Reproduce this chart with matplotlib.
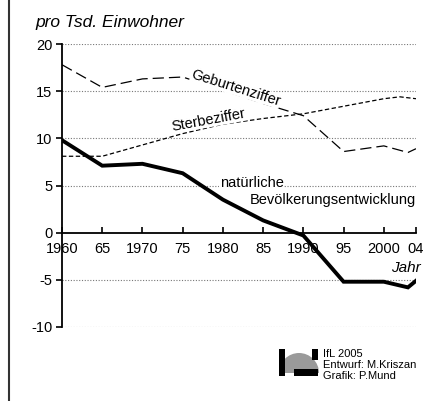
import matplotlib
matplotlib.use("Agg")
import matplotlib.pyplot as plt
from matplotlib.patches import Rectangle, Wedge
import matplotlib.lines as mlines

plt.rcParams['font.family'] = ['Liberation Sans', 'DejaVu Sans']

# Data
years_geb = [1960, 1965, 1970, 1975, 1980, 1985, 1990, 1995, 2000, 2003, 2004]
geburten = [17.8, 15.4, 16.3, 16.5, 15.1, 13.7, 12.4, 8.6, 9.2, 8.5, 8.9]

years_ster = [1960, 1965, 1970, 1975, 1980, 1985, 1990, 1995, 2000, 2002, 2004]
sterbe = [8.1, 8.1, 9.3, 10.5, 11.5, 12.1, 12.6, 13.4, 14.2, 14.4, 14.2]

years_nat = [1960, 1965, 1970, 1975, 1980, 1985, 1990, 1995, 2000, 2003, 2004]
natuerlich = [9.8, 7.1, 7.3, 6.3, 3.5, 1.3, -0.3, -5.2, -5.2, -5.8, -5.1]

xticks = [1960, 1965, 1970, 1975, 1980, 1985, 1990, 1995, 2000, 2004]
xticklabels = ["1960", "65", "1970", "75", "1980", "85", "1990", "95", "2000", "04"]
yticks = [-10, -5, 0, 5, 10, 15, 20]
yticklabels = ["-10", "-5", "0", "5", "10", "15", "20"]

W, H = 433, 401
fig = plt.figure(figsize=(W / 100, H / 100), dpi=100)
ax = fig.add_axes([62 / W, 1 - 327 / H, (416 - 62) / W, (327 - 44) / H])
ax.set_xlim(1960, 2004)
ax.set_ylim(-10, 20)

# grid lines
for yv in [20, 15, 10, 5, -5, -10]:
    ax.plot([1960, 2004], [yv, yv], color='#777777', lw=0.8, ls=(0, (1, 1.5)), zorder=1)

# lines
ax.plot(years_geb, geburten, color='black', lw=0.9, ls=(0, (9, 4)), zorder=3)
ax.plot(years_ster, sterbe, color='black', lw=0.9, ls=(0, (3.5, 2)), zorder=3)
ax.plot(years_nat, natuerlich, color='black', lw=2.8, solid_joinstyle='miter', zorder=4)

# spines
for s in ['top', 'right']:
    ax.spines[s].set_visible(False)
ax.spines['bottom'].set_position(('data', 0))
ax.spines['bottom'].set_linewidth(1.3)
ax.spines['left'].set_linewidth(1.3)
ax.patch.set_visible(False)

ax.set_xticks(xticks)
ax.set_xticklabels(xticklabels)
ax.set_yticks(yticks)
ax.set_yticklabels(yticklabels)
ax.tick_params(axis='x', direction='in', length=4, width=1.2, pad=7, labelsize=10.5)
ax.tick_params(axis='y', direction='out', length=4, width=1.2, pad=3, labelsize=10.5)

# labels
ax.text(1981.6, 15.35, "Geburtenziffer", rotation=-17.5, rotation_mode='anchor',
        ha='center', va='center', fontsize=10.5, zorder=5,
        bbox=dict(facecolor='white', edgecolor='none', pad=0.3))
ax.text(1978.2, 11.95, "Sterbeziffer", rotation=10.5, rotation_mode='anchor',
        ha='center', va='center', fontsize=10.5, zorder=5,
        bbox=dict(facecolor='white', edgecolor='none', pad=0.3))
ax.text(1979.6, 5.25, "natürliche", ha='left', va='center', fontsize=10.5, zorder=5,
        bbox=dict(facecolor='white', edgecolor='none', pad=0.5))
ax.text(2004, 3.45, "Bevölkerungsentwicklung", ha='right', va='center', fontsize=10.5, zorder=5)

fig.text(35 / W, 1 - 22 / H, "pro Tsd. Einwohner", style='italic', fontsize=12.5,
         ha='left', va='center')
fig.text(421 / W, 1 - 268 / H, "Jahr", style='italic', fontsize=11, ha='right', va='center')

# frame line on left
fig.add_artist(mlines.Line2D([9 / W, 9 / W], [0, 1], color='#333333', lw=1.5))

# logo
lax = fig.add_axes([279 / W, 1 - 376 / H, 40 / W, 27 / H])
lax.set_xlim(0, 40)
lax.set_ylim(0, 27)
lax.axis('off')
lax.add_patch(Wedge((20, 3), 20, 0, 180, facecolor='#9a9a9a', edgecolor='none'))
lax.add_patch(Rectangle((0, 0), 6, 27, facecolor='black'))
lax.add_patch(Rectangle((33, 16), 6, 11, facecolor='black'))
lax.add_patch(Rectangle((15, 0), 24, 7, facecolor='black'))

fig.text(323 / W, 1 - 354 / H, "IfL 2005", fontsize=8, ha='left', va='center')
fig.text(323 / W, 1 - 365 / H, "Entwurf: M.Kriszan", fontsize=8, ha='left', va='center')
fig.text(323 / W, 1 - 376 / H, "Grafik: P.Mund", fontsize=8, ha='left', va='center')

fig.savefig("out.png", dpi=100)
